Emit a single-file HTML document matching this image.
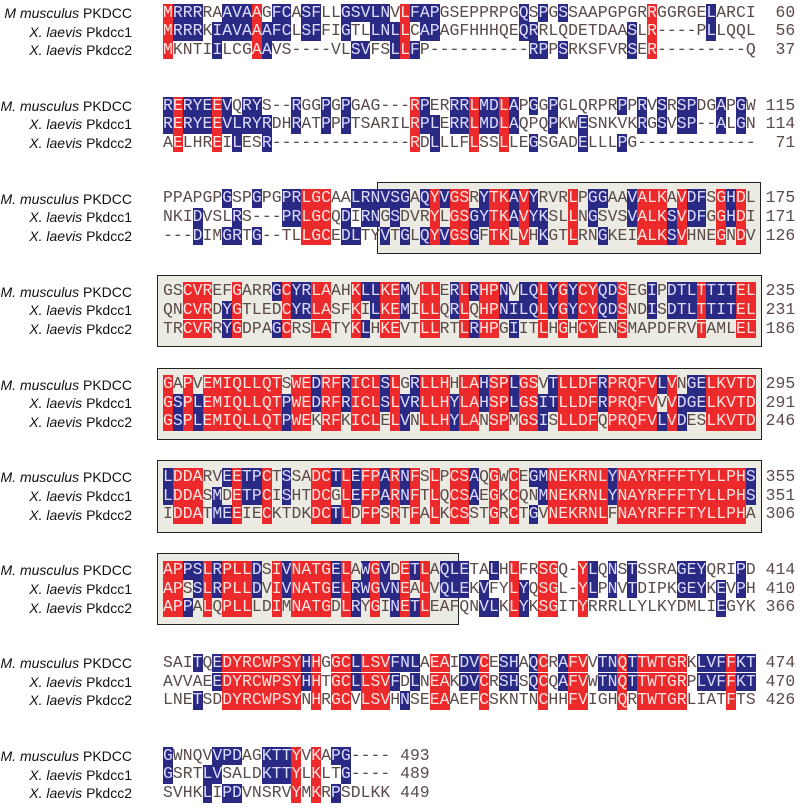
<!DOCTYPE html>
<html><head><meta charset="utf-8">
<style>
html,body{margin:0;padding:0;background:#fff;}
#wrap{position:relative;width:800px;height:808px;overflow:hidden;font-family:"Liberation Mono",monospace;}
.name{position:absolute;right:668px;font-family:"Liberation Sans",sans-serif;font-size:14px;color:#111;white-space:nowrap;line-height:18px;}
.name i{font-style:italic;}
.box{position:absolute;background:#ecebe3;border:1.5px solid #222;box-sizing:border-box;}
.c{position:absolute;width:9.9px;height:18.6px;line-height:18.6px;font-size:16.4px;text-align:center;color:#5a4a48;}
.r{background:#ec2a2c;color:#ffe4e0;}
.b{background:#2a2a85;color:#dcdcff;}
.num{position:absolute;font-size:16.4px;line-height:18.6px;color:#5a4a48;white-space:pre;}
</style></head><body>
<div id="wrap"></div>
<script>
const species = ["M. musculus PKDCC","X. laevis Pkdcc1","X. laevis Pkdcc2"];
const blockM = ["MRRRRAAVAAGFCASFLLGSVLNVLFAPGSEPPRPGQSPGSSAAPGPGRRGGRGELARCI","RERYEEVQRYS--RGGPGPGAG---RPERRRLMDLAPGGPGLQRPRPPRVSRSPDGAPGW","PPAPGPGSPGPGPRLGCAALRNVSGAQYVGSRYTKAVYRVRLPGGAAVALKAVDFSGHDL","GSCVREFGARRGCYRLAAHKLLKEMVLLERLRHPNVLQLYGYCYQDSEGIPDTLTTITEL","GAPVEMIQLLQTSWEDRFRICLSLGRLLHHLAHSPLGSVTLLDFRPRQFVLVNGELKVTD","LDDARVEETPCTSSADCTLEFPARNFSLPCSAQGWCEGMNEKRNLYNAYRFFFTYLLPHS","APPSLRPLLDSIVNATGELAWGVDETLAQLETALHLFRSGQ-YLQNSTSSRAGEYQRIPD","SAITQEDYRCWPSYHHGGCLLSVFNLAEAIDVCESHAQCRAFVVTNQTTWTGRKLVFFKT","GWNQVVPDAGKTTYVKAPG----"];
const blockX1 = ["MRRRKIAVAAAFCLSFFIGTLLNLLCAPAGFHHHQEQRRLQDETDAASLR----PLLQQL","RERYEEVLRYRDHRATPPPTSARILRPLERRLMDLAQPQPKWESNKVKRGSVSP--ALGN","NKIDVSLRS---PRLGCQDIRNGSDVRYLGSGYTKAVYKSLLNGSVSVALKSVDFGGHDI","QNCVRDYGTLEDCYRLASFKILKEMILLQRLQHPNILQLYGYCYQDSNDISDTLTTITEL","GSPLEMIQLLQTPWEDRFRICLSLVRLLHYLAHSPLGSITLLDFRPRQFVVVDGELKVTD","LDDASMDETPCISHTDCGLEFPARNFTLQCSAEGKCQNMNEKRNLYNAYRFFFTYLLPHS","APSSLRPLLDVIVNATGELRWGVNEALVQLEKVFYLYQSGL-YLPNVTDIPKGEYKEVPH","AVVAEEDYRCWPSYHHTGCLLSVFDLNEAKDVCRSHSQCQAFVWTNQTTWTGRPLVFFKT","GSRTLVSALDKTTYLKLTG----"];
const blockX2 = ["MKNTIILCGAAVS----VLSVFSLLFP----------RPPSRKSFVRSER---------Q","AELHREILESR--------------RDLLLFLSSLLEGSGADELLLPG------------","---DIMGRTG--TLLGCEDLTYVTGLQYVGSGFTKLVHKGTLRNGKEIALKSVHNEGNDV","TRCVRRYGDPAGCRSLATYKLHKEVTLLRTLRHPGIITLHGHCYENSMAPDFRVTAMLEL","GSPLEMIQLLQTPWEKRFKICLELVNLLHYLANSPMGSISLLDFQPRQFVLVDESLKVTD","IDDATMEEIECKTDKDCTLDFPSRTFALKCSSTGRCTGVNEKRNLFNAYRFFFTYLLPHA","APPALQPLLLDIMNATGDLRYGINETLEAFQNVLKLYKSGITYRRRLLYLKYDMLIEGYK","LNETSDDYRCWPSYNHRGCVLSVHNSEEAAEFCSKNTNCHHFVIGHQRTWTGRLIATFTS","SVHKLIPDVNSRVYMKRPSDLKK"];
const endM = [60,115,175,235,295,355,414,474,493];
const endX1 = [56,114,171,231,291,351,410,470,489];
const endX2 = [37,71,126,186,246,306,366,426,449];

const wrap = document.getElementById('wrap');
const X0 = 163, CW = 9.88, ROW = 18.6, BLK = 92.9, Y0 = 12.9;
function rowY(b, r){ return Y0 + b*BLK + r*ROW; }

// domain boxes: [block, left, right]
const boxes = [[2,377,761],[3,157,762],[4,157,762],[5,157,762],[6,157,459]];
boxes.forEach(bx=>{
  const d = document.createElement('div');
  d.className='box';
  
  
  const top = rowY(bx[0],0) - 17, bot = rowY(bx[0],2) + 18;
  d.style.left = bx[1]+'px'; d.style.width = (bx[2]-bx[1])+'px';
  d.style.top = top+'px'; d.style.height = (bot-top)+'px';
  wrap.appendChild(d);
});

const rows = [blockM, blockX1, blockX2];
const ends = [endM, endX1, endX2];
for (let b=0; b<blockM.length; b++){
  for (let r=0; r<3; r++){
    const n = document.createElement('div');
    n.className='name';
    
    
    const parts = species[r].split(' ');
    let sp = parts[0]+' '+parts[1];
    if (b===0 && r===0) sp = 'M musculus';
    n.innerHTML = '<i>'+sp+'</i> '+parts[2];
    n.style.top = (rowY(b,r)-9)+'px';
    wrap.appendChild(n);
    const s = rows[r][b];
    for (let i=0;i<s.length;i++){
      const ch = s[i];
      const a = blockM[b][i], c1 = blockX1[b][i], c2 = blockX2[b][i];
      let cls = 'c';
      if (ch !== '-'){
        if (a===c1 && c1===c2) cls += ' r';
        else {
          const others = [a,c1,c2].filter((x,k)=>k!==r);
          if (others.includes(ch)) cls += ' b';
        }
      }
      const e = document.createElement('div');
      e.className = cls;
      
      
      e.textContent = ch;
      e.style.left = (X0 + i*CW)+'px';
      e.style.top = (rowY(b,r)-ROW/2)+'px';
      wrap.appendChild(e);
    }
    const num = document.createElement('div');
    num.className='num';
    
    
    num.textContent = String(ends[r][b]).padStart(3,' ');
    num.style.left = (X0 + (s.length+1)*CW - (String(ends[r][b]).length<3?CW:0) + (String(ends[r][b]).length<3?CW:0) - 0)+'px';
    num.style.top = (rowY(b,r)-ROW/2)+'px';
    wrap.appendChild(num);
  }
}
</script>
</body></html>
